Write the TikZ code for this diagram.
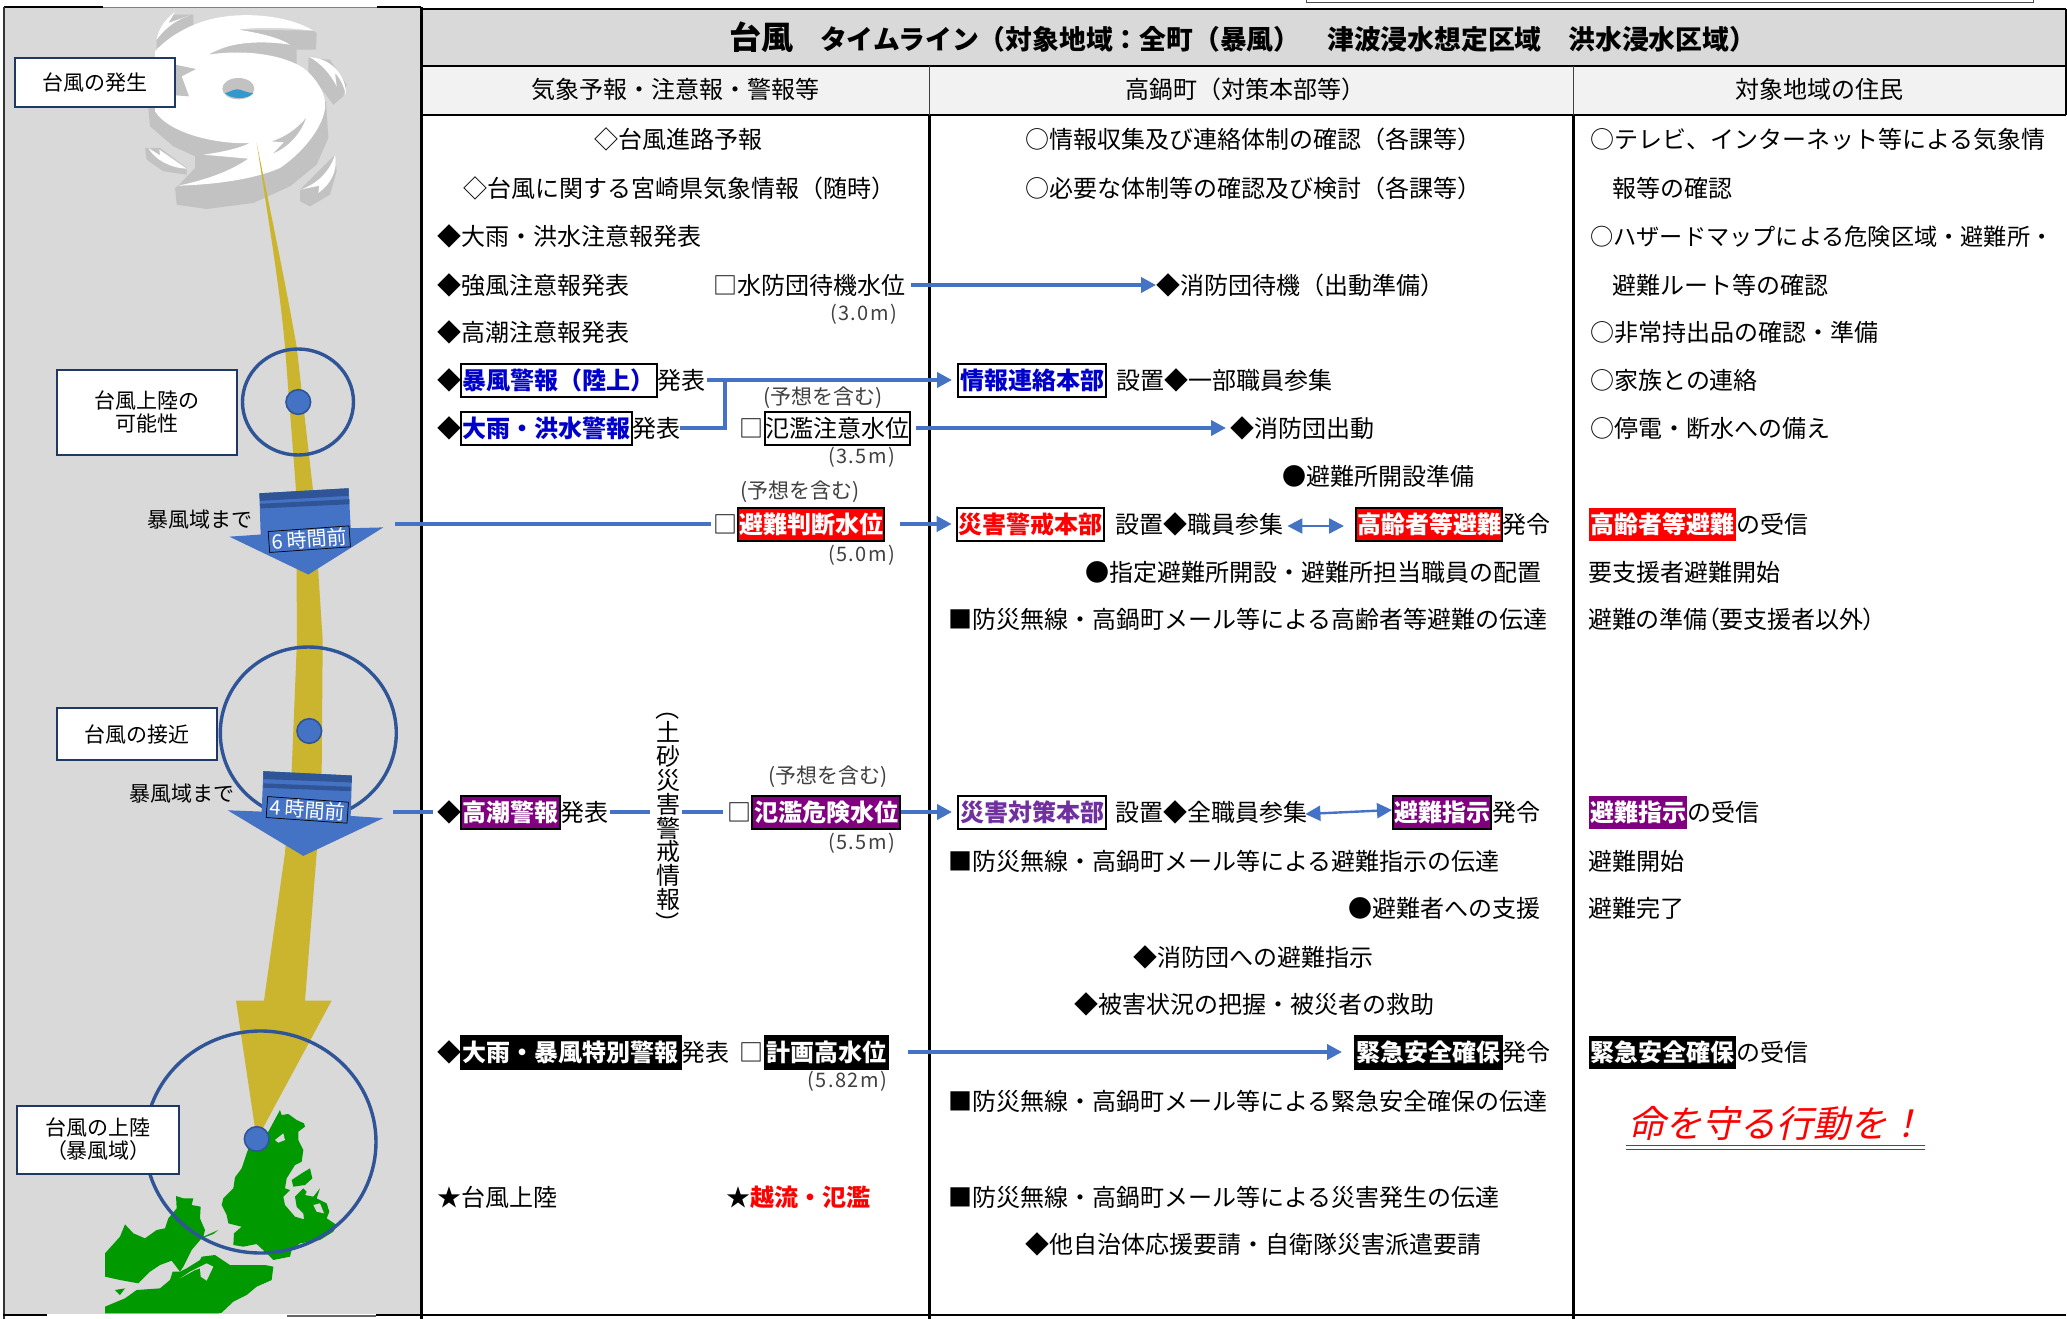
\documentclass[tikz,border=0pt]{standalone}
\usepackage{fontspec}
\setmainfont{Noto Sans CJK JP}
\newfontfamily\jpp[RawFeature=+palt]{Noto Sans CJK JP}
\newfontfamily\jpi[FakeSlant=0.22]{Noto Sans CJK JP}
\newfontfamily\jpn[LetterSpace=7]{Noto Sans CJK JP}
\usetikzlibrary{arrows.meta}
\definecolor{panel}{HTML}{D9D9D9}
\definecolor{subh}{HTML}{F2F2F2}
\definecolor{flow}{HTML}{4472C4}
\definecolor{ringc}{HTML}{2F5597}
\definecolor{track}{HTML}{CBB52E}
\definecolor{navyb}{HTML}{1F3864}
\definecolor{mapg}{HTML}{009900}
\definecolor{stormgray}{HTML}{C2C2C2}
\definecolor{eyeblue}{HTML}{3399CC}
\definecolor{warnblue}{HTML}{0000CC}
\definecolor{warnpurple}{HTML}{800080}
\definecolor{hqpurple}{HTML}{7030A0}
\definecolor{notegray}{HTML}{404040}
\newcommand\fs[1]{\fontsize{#1}{#1}\selectfont}
\tikzset{
  lab/.style={anchor=west,inner sep=0pt,text height=21pt,text depth=3pt,font=\fs{24}},
  mid/.style={anchor=center,inner sep=0pt,text height=21pt,text depth=3pt,font=\fs{24}},
  note/.style={inner sep=0pt,text=notegray,font=\jpn\fs{20}},
  expect/.style={inner sep=0pt,text=notegray,font=\fs{21},anchor=west},
  gline/.style={line width=2.4pt,draw=black},
  wbox/.style={anchor=west,inner sep=0pt,minimum height=33pt,draw=black,line width=2pt,fill=white,font=\fs{24}\bfseries,text height=21pt,text depth=3pt},
  bluebox/.style={wbox,text=warnblue},
  redbox/.style={wbox,fill=red,text=white},
  redtext/.style={wbox,text=red},
  purplebox/.style={wbox,fill=warnpurple,text=white},
  hqbox/.style={wbox,text=hqpurple},
  blackbox/.style={wbox,fill=black,text=white},
  plainbox/.style={wbox,font=\fs{24}},
  flowline/.style={draw=flow,line width=4pt},
  flowarrow/.style={flowline,-{Triangle[length=15pt,width=15pt]}},
  flowboth/.style={draw=flow,line width=2.4pt,{Triangle[length=15pt,width=15pt]}-{Triangle[length=15pt,width=15pt]}},
  stage/.style={draw=navyb,line width=2pt,fill=white,inner sep=0pt,align=center,font=\fs{21}},
  ring/.style={draw=ringc,line width=3.4pt},
  dot/.style={draw=ringc,line width=1.6pt,fill=flow},
  timebox/.style={draw=black,line width=.7pt,fill=flow,text=white,inner sep=0pt,minimum width=81pt,minimum height=21pt,font=\fs{20}},
}
\begin{document}
\begin{tikzpicture}[x=1pt,y=-1pt]
\useasboundingbox (0,0) rectangle (2067,1319);
\fill[white] (0,0) rectangle (2067,1319);
% bands
\fill[panel] (4,8) rectangle (421,1314);
\fill[panel] (422,9) rectangle (2066,65);
\fill[subh] (422,65) rectangle (2066,115);
% typhoon graphic
\begin{scope}[shift={(140,8)},x=.33333pt,y=-.33333pt]
 % shadows
 \fill[stormgray] (25,300) -- (30,355) -- (100,415) -- (165,445) -- (165,480) -- (115,533) -- (105,540) -- (110,590) -- (200,603) -- (340,585) -- (450,535) -- (530,470) -- (565,390) -- (558,280) -- (300,200) -- (60,200) -- cycle;
 \fill[stormgray] (295,65) -- (520,68) -- (530,75) -- (528,125) -- (470,125) -- (470,180) -- (205,140) -- (300,100) -- cycle;
 \fill[stormgray] (50,95) -- (50,135) -- (160,60) -- (160,20) -- (100,20) -- cycle;
 \fill[stormgray] (505,150) -- (505,190) -- (580,290) -- (610,265) -- (620,230) -- (570,155) -- cycle;
 \fill[stormgray] (15,420) -- (20,455) -- (70,490) -- (140,500) -- (140,480) -- (60,420) -- cycle;
 \fill[stormgray] (480,545) -- (480,580) -- (510,595) -- (570,560) -- (590,490) -- (585,440) -- cycle;
 % white spiral
 \fill[white] (45,130) .. controls (90,80) and (170,35) .. (260,25) .. controls (340,15) and (450,25) .. (520,68) .. controls (450,60) and (370,55) .. (295,65) .. controls (360,75) and (420,90) .. (450,110) .. controls (350,95) and (260,105) .. (205,140) .. controls (300,125) and (420,135) .. (490,180) .. controls (540,220) and (560,270) .. (555,300) .. controls (550,350) and (500,425) .. (420,480) .. controls (340,515) and (220,530) .. (115,533) .. controls (200,515) and (270,490) .. (325,452) -- (190,440) .. controls (250,432) and (300,420) .. (330,405) .. controls (240,410) and (90,380) .. (45,310) -- cycle;
 \fill[stormgray] (498,330) .. controls (470,365) and (430,390) .. (395,400) -- (432,403) -- (400,436) .. controls (450,415) and (485,370) .. (498,330) -- cycle;
 \fill[stormgray] (105,170) -- (168,183) -- (125,205) -- (147,265) -- (105,262) -- cycle;
 % small arms
 \fill[white] (50,95) .. controls (55,60) and (80,30) .. (105,12) -- (85,45) -- (150,22) .. controls (110,35) and (75,60) .. (50,95) -- cycle;
 \fill[white] (510,148) .. controls (570,150) and (620,200) .. (618,262) .. controls (612,235) and (600,210) .. (585,195) -- (590,235) .. controls (570,195) and (540,165) .. (510,148) -- cycle;
 \fill[white] (25,420) -- (60,442) -- (58,425) -- (140,482) .. controls (90,480) and (45,455) .. (25,420) -- cycle;
 \fill[white] (480,545) .. controls (530,530) and (570,490) .. (585,440) .. controls (595,490) and (570,530) .. (535,555) -- (538,533) -- cycle;
 % eye
 \fill[stormgray] (295,242) ellipse[x radius=48,y radius=32];
 \fill[eyeblue] (255,256) .. controls (275,250) and (285,240) .. (300,245) .. controls (315,250) and (325,255) .. (340,255) .. controls (325,275) and (275,275) .. (255,256) -- cycle;
\end{scope}
% track
\fill[track] (256.7,143) .. controls (270,230) and (280,290) .. (285,347) -- (296,490) -- (297,640) -- (291.7,770) -- (285,853) -- (264,1000.5) -- (236,1000.5) -- (256.7,1139.6) -- (331.7,1000.5) -- (305,1000.5) -- (316.7,853) -- (321.7,770) -- (322.7,640) -- (313,490) -- (296.7,347) .. controls (285,280) and (270,210) .. (256.7,143) -- cycle;
% map
\begin{scope}[shift={(100,1090)},x=.33333pt,y=-.33333pt]
 \fill[mapg] (455,150) -- (505,125) -- (540,60) -- (545,75) -- (565,72) -- (590,90) -- (612,100) -- (615,110) -- (595,125) -- (595,150) -- (610,180) -- (605,215) -- (585,225) -- (560,265) -- (555,295) -- (570,300) -- (550,320) -- (555,345) -- (585,380) -- (612,388) -- (610,370) -- (590,350) -- (585,320) -- (610,295) -- (620,305) -- (615,315) -- (640,320) -- (660,295) -- (650,325) -- (680,340) -- (688,365) -- (680,385) -- (710,405) -- (700,425) -- (660,450) -- (600,460) -- (575,480) -- (570,500) -- (520,510) -- (500,490) -- (470,462) -- (430,470) -- (400,465) -- (402,430) -- (425,410) -- (385,400) -- (380,375) -- (365,345) -- (370,325) -- (400,295) -- (405,262) -- (425,235) -- (440,190) -- cycle;
 \fill[panel] (525,150) -- (550,130) -- (555,150) -- (535,158) -- cycle;
 \fill[panel] (640,345) -- (660,340) -- (672,370) -- (650,365) -- cycle;
 \fill[mapg] (605,250) -- (630,235) -- (637,265) -- (615,285) -- (580,290) -- (575,270) -- cycle;
 \fill[mapg] (15,490) -- (60,440) -- (75,403) -- (100,430) -- (135,445) -- (170,420) -- (195,415) -- (205,385) -- (230,355) -- (228,318) -- (250,325) -- (280,325) -- (275,345) -- (302,350) -- (300,385) -- (315,420) -- (310,440) -- (355,420) -- (340,432) -- (305,445) -- (275,480) -- (250,530) -- (240,545) -- (215,512) -- (180,525) -- (150,545) -- (115,580) -- (60,570) -- (15,560) -- cycle;
 \fill[mapg] (15,670) -- (15,650) -- (75,625) -- (110,600) -- (180,595) -- (210,570) -- (218,545) -- (240,545) -- (260,535) -- (300,510) -- (305,500) -- (345,495) -- (390,525) -- (440,525) -- (495,525) -- (520,530) -- (515,570) -- (470,590) -- (440,615) -- (400,635) -- (365,668) -- (355,670) -- cycle;
 \fill[panel] (240,565) -- (285,540) -- (300,535) -- (302,560) -- (320,572) -- (340,530) -- (320,520) -- (270,545) -- cycle;
 \fill[mapg] (45,600) -- (75,595) -- (60,615) -- cycle;
\end{scope}
% rings and dots
\draw[ring] (298,402) ellipse[x radius=55.5,y radius=53];
\fill[dot,draw=ringc] (298.3,402) circle[radius=12.3];
\draw[ring] (308.3,733) ellipse[x radius=88,y radius=86];
\fill[dot,draw=ringc] (309.3,731) circle[radius=12.3];
\draw[ring] (260.5,1142) ellipse[x radius=115.5,y radius=111];
\fill[dot,draw=ringc] (256.7,1139) circle[radius=12.3];
% block arrows
\begin{scope}[x=.33333pt,y=-.4209pt]
 \fill[flow] (778,1172) -- (1046,1160) -- (1052,1255) -- (1150,1253) -- (925,1365) -- (688,1275) -- (782,1270) -- cycle;
 \fill[ringc] (778,1172) -- (1046,1160) -- (1046,1178) -- (780,1190) -- cycle;
 \fill[ringc] (780,1197) -- (1048,1186) -- (1048,1198) -- (782,1208) -- cycle;
 \node[timebox,rotate=4] (t6) at (928,1281) {6 時間前};
\end{scope}
\begin{scope}[shift={(0,640)},x=.33333pt,y=-.4344pt]
 \fill[flow] (790,302) -- (1056,312) -- (1052,405) -- (1150,410) -- (910,497) -- (683,392) -- (785,395) -- cycle;
 \fill[ringc] (790,302) -- (1056,312) -- (1056,328) -- (790,320) -- cycle;
 \fill[ringc] (790,330) -- (1052,338) -- (1052,348) -- (790,340) -- cycle;
 \node[timebox,rotate=-4] (t4) at (922,391) {4 時間前};
\end{scope}
\node[font=\fs{21},inner sep=0pt] (to6) at (200,520) {暴風域まで};
\node[font=\fs{21},inner sep=0pt] (to4) at (182,794) {暴風域まで};
% stage labels
\node[stage,minimum width=160.6pt,minimum height=49.6pt] (s1) at (95,82.5) {台風の発生};
\node[stage,minimum width=180pt,minimum height=85pt] (s2) at (146.7,412) {台風上陸の\\[2pt]可能性};
\node[stage,minimum width=160pt,minimum height=52pt] (s3) at (136.7,734) {台風の接近};
\node[stage,minimum width=162pt,minimum height=67.8pt] (s4) at (98.3,1139.6) {台風の上陸\\[2pt]{\jpp（暴風域）}};
% grid
\draw[gline] (421.5,7) -- (421.5,1319);
\draw[gline] (422,9) -- (2066,9);
\draw[gline] (422,66) -- (2066,66);
\draw[gline] (422,115) -- (2066,115);
\draw[gline] (2066,9) -- (2066,115);
\draw[gline] (929.5,115) -- (929.5,1319);
\draw[gline] (1573.5,115) -- (1573.5,1319);
\draw[draw=black!75,line width=1pt] (929.5,66) -- (929.5,115);
\draw[draw=black!75,line width=1pt] (1573.5,66) -- (1573.5,115);
\draw[line width=2pt] (4,7.5) -- (103,7.5);
\draw[draw=black!50,line width=1pt] (103,7.5) -- (377,7.5);
\draw[line width=2pt] (377,7.5) -- (421,7.5);
\draw[draw=black!80,line width=1.5pt] (4,7.5) -- (4,1319);
\draw[line width=2pt] (3,1315) -- (47,1315);
\draw[draw=black!60,line width=2pt] (287,1316) -- (376,1316);
\draw[line width=2pt] (376,1315) -- (2066,1315);
\draw[line width=1pt,draw=black!70] (1306,0) -- (1306,2.5) -- (2033,2.5) -- (2033,0);
% headers
\node[anchor=west,inner sep=0pt,font=\fs{26.8}\bfseries] (title) at (729,37) {{\fs{32}台風}　タイムライン（対象地域：全町（暴風）　津波浸水想定区域　洪水浸水区域）};
\node[mid] (h1) at (675,90) {気象予報・注意報・警報等};
\node[mid] (h2) at (1245,90) {高鍋町（対策本部等）};
\node[mid] (h3) at (1819,90) {対象地域の住民};
% column 1
\node[lab] (a1) at (594,140) {◇台風進路予報};
\node[lab] (a2) at (463,188.5) {◇台風に関する宮崎県気象情報（随時）};
\node[lab] (a3) at (437.5,236) {◆大雨・洪水注意報発表};
\node[lab] (a4) at (437.5,285) {◆強風注意報発表};
\node[lab] (w30) at (713,285) {□水防団待機水位};
\node[note,anchor=east] (w30n) at (897,314) {(3.0m)};
\node[lab] (a5) at (437.5,332) {◆高潮注意報発表};
\node[lab] (d1) at (437.5,380) {◆};
\node[bluebox,minimum width=195.7pt] (b1) at (460,380) {暴風警報（陸上）};
\node[lab] (h1a) at (657.5,380) {発表};
\node[lab] (d2) at (437.5,428) {◆};
\node[bluebox,minimum width=171pt] (b2) at (460,428) {大雨・洪水警報};
\node[lab] (h2a) at (632,428) {発表};
\node[expect] (y1) at (763,398) {(予想を含む)};
\node[lab] (q1) at (739,428) {□};
\node[plainbox,minimum width=145.4pt] (w35) at (763.6,428) {氾濫注意水位};
\node[note,anchor=east] (w35n) at (895,457) {(3.5m)};
\node[expect] (y2) at (740,492) {(予想を含む)};
\node[lab] (q2) at (713,524) {□};
\node[redbox,minimum width=146pt] (w50) at (737,524) {避難判断水位};
\node[note,anchor=east] (w50n) at (895,555) {(5.0m)};
\node[lab] (d3) at (437.5,812) {◆};
\node[purplebox,minimum width=99pt] (b3) at (460,812) {高潮警報};
\node[lab] (h3a) at (560,812) {発表};
\node[inner sep=0pt,align=center,font=\fontsize{24}{23.9}\selectfont] (dosha) at (668,816) {\rotatebox[origin=c]{-90}{（}\\土\\砂\\災\\害\\警\\戒\\情\\報\\\rotatebox[origin=c]{-90}{）}};
\node[expect] (y3) at (768,777) {(予想を含む)};
\node[lab] (q3) at (727,812) {□};
\node[purplebox,minimum width=147.2pt] (w55) at (751.4,812) {氾濫危険水位};
\node[note,anchor=east] (w55n) at (895,843) {(5.5m)};
\node[lab] (d4) at (437.5,1052) {◆};
\node[blackbox,minimum width=219.6pt] (b4) at (460,1052) {大雨・暴風特別警報};
\node[lab] (h4a) at (681,1052) {発表};
\node[lab] (q4) at (739,1052) {□};
\node[blackbox,minimum width=123.2pt] (w58) at (763.6,1052) {計画高水位};
\node[note,anchor=east] (w58n) at (887,1081) {(5.82m)};
\node[lab] (a6) at (437.5,1197) {★台風上陸};
\node[lab] (a7) at (726,1197) {★{\bfseries\color{red}越流・氾濫}};
% column 2
\node[lab] (c1) at (1025,140) {○情報収集及び連絡体制の確認（各課等）};
\node[lab] (c2) at (1025,188.5) {○必要な体制等の確認及び検討（各課等）};
\node[lab] (c3) at (1156,285) {◆消防団待機（出動準備）};
\node[bluebox,minimum width=148pt] (hq1) at (957,380) {情報連絡本部};
\node[lab] (c4) at (1116.5,380) {設置◆一部職員参集};
\node[lab] (c5) at (1230,428) {◆消防団出動};
\node[lab] (c6) at (1282.5,476) {●避難所開設準備};
\node[redtext,minimum width=147.3pt] (hq2) at (955.7,524) {災害警戒本部};
\node[lab] (c7) at (1115,524) {設置◆職員参集};
\node[redbox,minimum width=146pt] (ev1) at (1355,524) {高齢者等避難};
\node[lab] (c8) at (1502,524) {発令};
\node[lab] (c9) at (1085,572) {●指定避難所開設・避難所担当職員の配置};
\node[lab] (c10) at (948,619.5) {■防災無線・高鍋町メール等による高齢者等避難の伝達};
\node[hqbox,minimum width=148pt] (hq3) at (957,812) {災害対策本部};
\node[lab] (c11) at (1115,812) {設置◆全職員参集};
\node[purplebox,minimum width=98pt] (ev2) at (1392,812) {避難指示};
\node[lab] (c12) at (1492,812) {発令};
\node[lab] (c13) at (948,861) {■防災無線・高鍋町メール等による避難指示の伝達};
\node[lab] (c14) at (1348.5,908) {●避難者への支援};
\node[lab] (c15) at (1133.5,957) {◆消防団への避難指示};
\node[lab] (c16) at (1074,1004.5) {◆被害状況の把握・被災者の救助};
\node[blackbox,minimum width=147pt] (ev3) at (1354,1052) {緊急安全確保};
\node[lab] (c17) at (1502,1052) {発令};
\node[lab] (c18) at (948,1101) {■防災無線・高鍋町メール等による緊急安全確保の伝達};
\node[lab] (c19) at (948,1197) {■防災無線・高鍋町メール等による災害発生の伝達};
\node[lab] (c20) at (1025,1244) {◆他自治体応援要請・自衛隊災害派遣要請};
% column 3
\node[lab] (r1) at (1590,140) {○テレビ、インターネット等による気象情};
\node[lab] (r2) at (1612,188.5) {報等の確認};
\node[lab,font=\fs{23.2}] (r3) at (1590,236) {○ハザードマップによる危険区域・避難所・};
\node[lab] (r4) at (1612,285) {避難ルート等の確認};
\node[lab] (r5) at (1590,332) {○非常持出品の確認・準備};
\node[lab] (r6) at (1590,380) {○家族との連絡};
\node[lab] (r7) at (1590,428) {○停電・断水への備え};
\node[redbox,draw=none,minimum width=147pt] (e1) at (1588,524) {高齢者等避難};
\node[lab] (r8) at (1736,524) {の受信};
\node[lab] (r9) at (1588,572) {要支援者避難開始};
\node[lab,font=\jpp\fs{24}] (r10) at (1588,619.5) {避難の準備（要支援者以外）};
\node[purplebox,draw=none,minimum width=98pt] (e2) at (1588,812) {避難指示};
\node[lab] (r11) at (1687,812) {の受信};
\node[lab] (r12) at (1588,861) {避難開始};
\node[lab] (r13) at (1588,908) {避難完了};
\node[blackbox,draw=none,minimum width=147pt] (e3) at (1588,1052) {緊急安全確保};
\node[lab] (r14) at (1736,1052) {の受信};
\node[anchor=base west,inner sep=0pt,text=red,font=\jpi\fs{37}] (inochi) at (1628,1137) {命を守る行動を！};
\coordinate (ul1) at (1626,1145);
\coordinate (ur1) at (1925,1145);
\coordinate (ul2) at (1626,1149);
\coordinate (ur2) at (1925,1149);
\draw[red,line width=1pt] (ul1) -- (ur1);
\draw[red,line width=1pt] (ul2) -- (ur2);
% connectors
\coordinate (j1) at (725,380);
\coordinate (from6) at (395,524);
\coordinate (from4) at (393,812);
\draw[flowarrow,shorten >=5pt,shorten <=1pt] (h1a.east) -- (hq1.west);
\draw[flowline] (h2a.east) -| (j1);
\draw[flowarrow,shorten <=6pt] (w30.east) -- (c3.west);
\draw[flowarrow,shorten <=5pt,shorten >=4pt] (w35.east) -- (c5.west);
\draw[flowline,shorten >=2pt] (from6) -- (q2.west);
\draw[flowarrow,shorten <=15pt,shorten >=4pt] (w50.east) -- (hq2.west);
\draw[flowboth] ([shift={(4,2)}]c7.east) -- ([shift={(-11,2)}]ev1.west);
\draw[flowline,shorten >=5pt] (from4) -- (d3.west);
\draw[flowline,shorten <=2pt,shorten >=6pt] (h3a.east) -- (dosha.west |- h3a.east);
\draw[flowline,shorten >=4pt] ([xshift=2pt]dosha.east |- h3a.east) -- (q3.west);
\draw[flowarrow,shorten >=5pt] (w55.east) -- (hq3.west);
\draw[flowboth] ([shift={(-2,2)}]c11.east) -- ([yshift=2pt]ev2.west);
\draw[flowarrow,shorten <=19pt,shorten >=12pt] (w58.east) -- (ev3.west);
\end{tikzpicture}
\end{document}
